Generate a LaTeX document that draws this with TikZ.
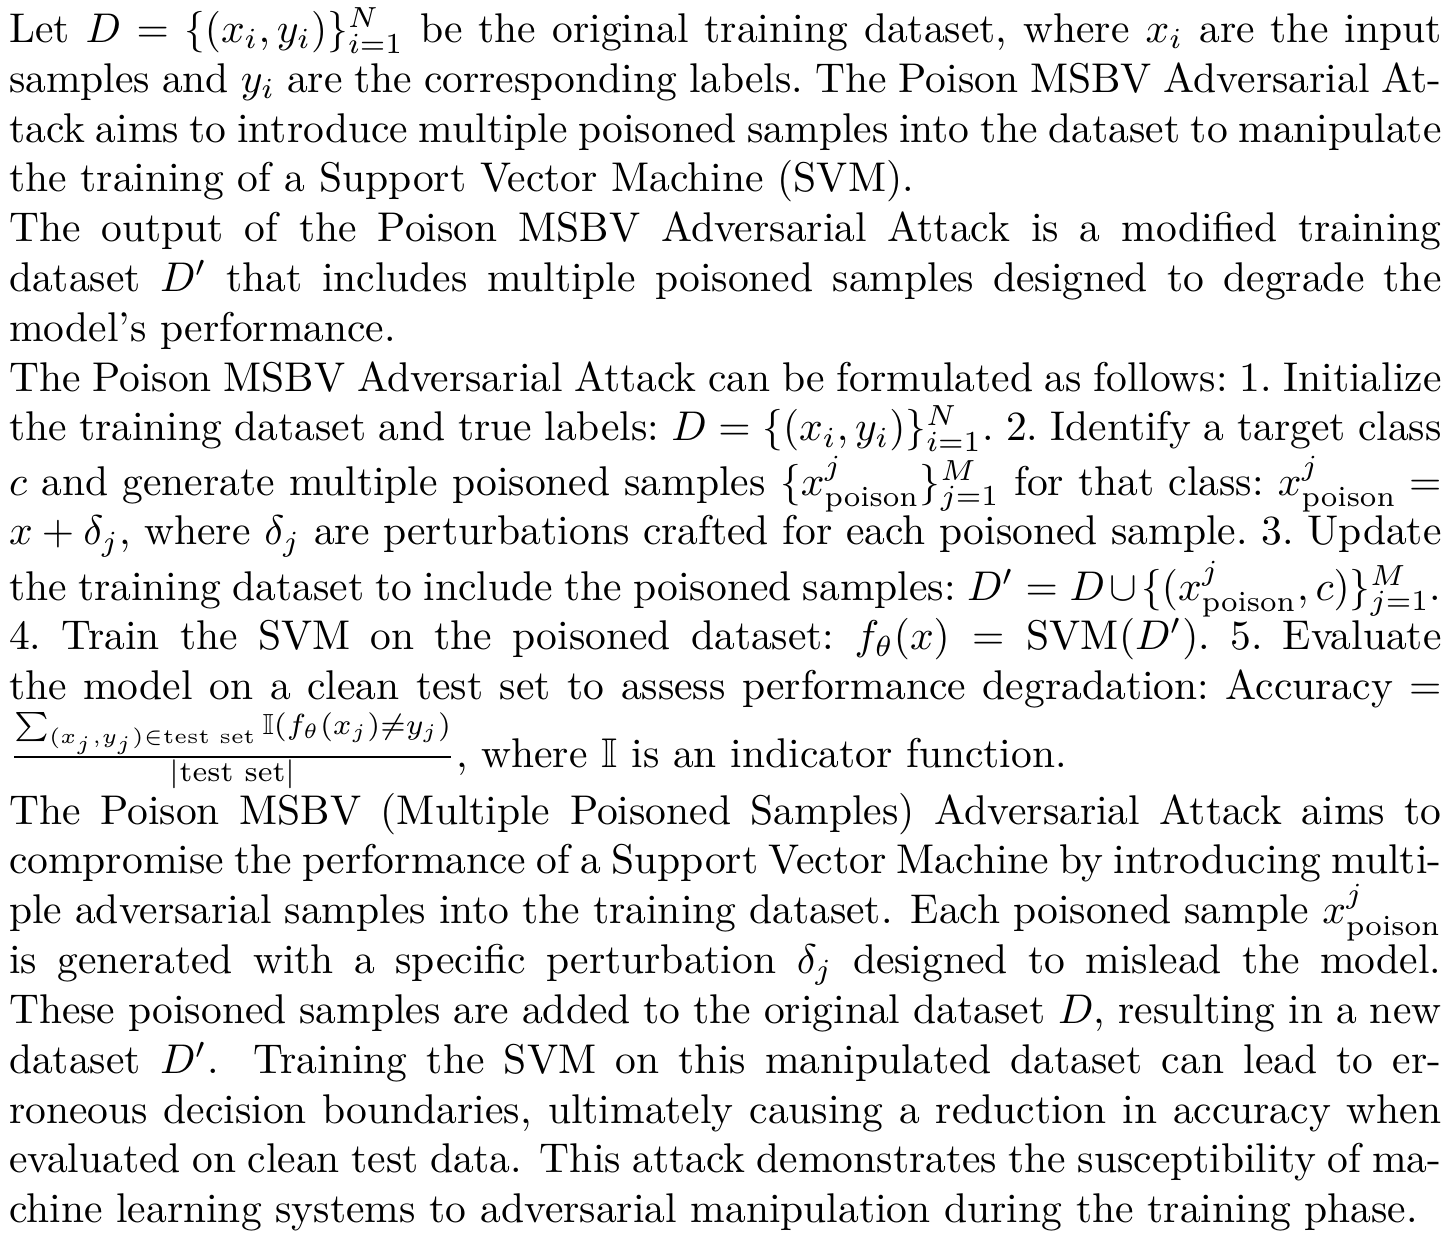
\documentclass[tikz,border=0pt]{standalone}
\usepackage{amsmath}
\usepackage{tikz}
\usepackage{amssymb}
\usepackage{xcolor}

\begin{document}
\begin{tikzpicture}[
      every node/.style = {text width = 345pt, inner sep = 0pt, align = justify, anchor = north west}
      ]
      \useasboundingbox (-2pt,1.6pt) rectangle (347pt,-297.1pt);
      \node (msbv) at (0,0) {\frenchspacing Let $D = \{(x_i, y_i)\}_{i=1}^N$ be the original training dataset, where $x_i$ are the input samples and $y_i$ are the corresponding labels. The Poison MSBV Adversarial Attack aims to introduce multiple poisoned samples into the dataset to manipulate the training of a Support Vector Machine (SVM).\\
      The output of the Poison MSBV Adversarial Attack is a modified training dataset $D'$ that includes multiple poisoned samples designed to degrade the model's performance.\\
      The Poison MSBV Adversarial Attack can be formulated as follows: 1. Initialize\linebreak
      the training dataset and true labels: $D = \{(x_i, y_i)\}_{i=1}^N$. 2. Identify a target class\linebreak
      $c$ and generate multiple poisoned samples $\{x_{\text{poison}}^j\}_{j=1}^M$ for that class: $x_{\text{poison}}^j =$\linebreak
      $x + \delta_j$, where $\delta_j$ are perturbations crafted for each poisoned sample. 3. Update\linebreak
      the training dataset to include the poisoned samples: $D' = D \cup \{(x_{\text{poison}}^j, c)\}_{j=1}^M$.\linebreak
      4. Train the SVM on the poisoned dataset: $f_\theta(x) = \text{SVM}(D')$. 5. Evaluate\linebreak
      the model on a clean test set to assess performance degradation: $\text{Accuracy} =$\linebreak
      $\frac{\sum_{(x_j, y_j) \in \text{test set}} \mathbb{I}(f_\theta(x_j) \neq y_j)}{|\text{test set}|}$, where $\mathbb{I}$ is an indicator function.\\
      \nonfrenchspacing The Poison MSBV (Multiple Poisoned Samples) Adversarial Attack aims to compromise the performance of a Support Vector Machine by introducing multiple adversarial samples into the training dataset. Each poisoned sample $x_{\text{poison}}^j$ is generated with a specific perturbation $\delta_j$ designed to mislead the model. These poisoned samples are added to the original dataset $D$, resulting in a new dataset $D'$. Training the SVM on this manipulated dataset can lead to erroneous decision boundaries, ultimately causing a reduction in accuracy when evaluated on clean test data. This attack demonstrates the susceptibility of machine learning systems to adversarial manipulation during the training phase.};
\end{tikzpicture}
\end{document}
